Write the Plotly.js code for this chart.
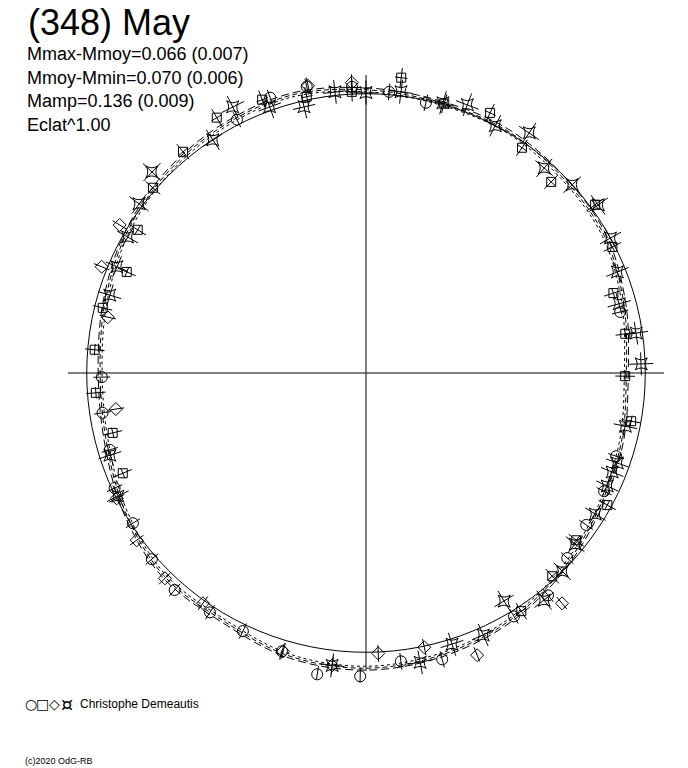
<!DOCTYPE html>
<html>
<head>
<meta charset="utf-8">
<script src="https://cdn.plot.ly/plotly-3.0.1.min.js"></script>
<style>html,body{margin:0;padding:0;background:#fff;}#chart{width:688px;height:768px;}</style>
</head>
<body>
<div id="chart"></div>
<script>
// Rotational phase (deg, clockwise from top) and relative brightness (Eclat^1.00)
const circlePhase = [333.0, 340.8, 348.3, 357.2, 4.7, 12.5, 76.5, 108.4, 116.4, 124.6, 132.6, 140.7, 148.7, 165.1, 173.1, 181.1, 189.2, 196.8, 205.5, 213.1, 221.4, 229.0, 237.2, 245.4, 253.3, 261.4, 269.1];
const circleFlux  = [1.018, 1.044, 1.047, 1.026, 1.010, 0.991, 0.936, 0.944, 0.952, 0.958, 0.979, 1.029, 1.020, 1.061, 1.040, 1.086, 1.093, 1.041, 1.024, 1.023, 1.036, 1.016, 0.993, 0.990, 0.958, 0.954, 0.946];

const squarePhase = [329.7, 320.4, 311.0, 302.1, 292.9, 283.9, 274.9, 339.2, 347.9, 357.1, 6.8, 16.2, 25.5, 34.7, 44.1, 53.7, 62.9, 72.1, 81.4, 90.7, 100.3, 118.7, 128.5, 137.5, 146.9, 265.8, 256.7, 247.6];
const squareFlux  = [1.059, 1.028, 1.011, 0.965, 0.930, 0.971, 0.975, 1.047, 1.012, 1.008, 1.065, 1.004, 1.032, 0.981, 0.953, 1.018, 0.991, 0.931, 0.939, 0.928, 0.965, 0.985, 0.962, 0.987, 1.018, 0.970, 0.932, 0.942];

const diamondPhase = [357.2, 348.6, 301.0, 291.9, 282.2, 261.8, 243.3, 233.9, 224.4, 215.3, 196.6, 186.6, 177.5, 168.0, 158.5, 139.6];
const diamondFlux  = [1.041, 1.049, 1.029, 1.020, 0.946, 0.905, 0.999, 1.016, 1.029, 1.010, 1.040, 1.054, 1.005, 1.004, 1.086, 1.083];

const starPhase = [333.4, 326.7, 313.2, 306.7, 299.7, 293.1, 286.9, 340.1, 346.9, 353.7, 0.0, 7.1, 15.9, 20.7, 27.6, 34.2, 41.0, 47.6, 54.1, 61.1, 68.1, 74.7, 81.6, 88.1, 101.6, 109.7, 111.9, 115.1, 121.6, 129.3, 135.3, 141.9, 148.8, 155.9, 162.4, 169.4, 186.6, 252.2, 243.6];
const starFlux  = [1.066, 0.999, 1.052, 1.014, 0.983, 0.970, 0.959, 1.014, 0.979, 1.013, 1.004, 1.015, 1.006, 1.027, 0.999, 1.040, 0.973, 1.000, 1.027, 1.000, 0.970, 0.940, 0.978, 0.986, 0.948, 0.956, 0.950, 0.954, 0.964, 0.968, 0.999, 1.034, 0.955, 1.028, 1.019, 1.054, 1.054, 0.963, 0.992];

// Error sizes per series: radial (brightness) and tangential (phase, deg)
const circleErr  = [0.030, 0];
const squareErr  = [0.035, 1.2];
const diamondErr = [0.030, 0];
const starErr    = [0.043, 2.4];

// Fitted lightcurve (mean and envelope), read every 15 deg of phase
const fitPhase = [0, 15, 30, 45, 60, 75, 90, 105, 120, 135, 150, 165, 180, 195, 210, 225, 240, 255, 270, 285, 300, 315, 330, 345];
const fitMean  = [1.014, 1.003, 1.004, 0.993, 0.985, 0.956, 0.932, 0.947, 0.965, 0.995, 1.025, 1.045, 1.057, 1.050, 1.024, 1.025, 0.995, 0.962, 0.952, 0.968, 0.992, 1.010, 1.022, 1.030];
const fitHigh  = [1.021, 1.010, 1.011, 1.000, 0.992, 0.963, 0.939, 0.954, 0.972, 1.002, 1.032, 1.052, 1.064, 1.057, 1.031, 1.032, 1.002, 0.969, 0.959, 0.975, 0.999, 1.017, 1.029, 1.037];
const fitLow   = [1.007, 0.996, 0.997, 0.986, 0.978, 0.949, 0.925, 0.940, 0.958, 0.988, 1.018, 1.038, 1.050, 1.043, 1.017, 1.018, 0.988, 0.955, 0.945, 0.961, 0.985, 1.003, 1.015, 1.023];

const titleText = "(348) May";
const infoLines = ["Mmax-Mmoy=0.066 (0.007)", "Mmoy-Mmin=0.070 (0.006)", "Mamp=0.136 (0.009)", "Eclat^1.00"];
const legendSymbols = ["○", "□", "◇", "¤"];
const observer = "Christophe Demeautis";
const copyright = "(c)2020 OdG-RB";

function errTrace(th, r, e) {
  const T = [], R = [];
  for (let i = 0; i < th.length; i++) {
    T.push(th[i], th[i], null); R.push(r[i] - e[0], r[i] + e[0], null);
    if (e[1] > 0) { T.push(th[i] - e[1], th[i] + e[1], null); R.push(r[i], r[i], null); }
  }
  return {type: 'scatterpolar', mode: 'lines', theta: T, r: R, connectgaps: false,
          line: {color: '#000', width: 1}, hoverinfo: 'skip'};
}
function closed(a) { return a.concat([a[0]]); }
function fitTrace(r, dash) {
  return {type: 'scatterpolar', mode: 'lines', theta: closed(fitPhase), r: closed(r),
          line: {color: '#000', width: 1, dash: dash, shape: 'spline'}, hoverinfo: 'skip'};
}
function markTrace(th, r, sym, size) {
  return {type: 'scatterpolar', mode: 'markers', theta: th, r: r,
          marker: {symbol: sym, size: size, color: '#000', line: {color: '#000', width: 1}}};
}

const traces = [
  fitTrace(fitMean, '5px,3px'),
  fitTrace(fitHigh, '8px,4px'),
  fitTrace(fitLow, '3px,3px'),
  errTrace(circlePhase, circleFlux, circleErr),
  errTrace(squarePhase, squareFlux, squareErr),
  errTrace(diamondPhase, diamondFlux, diamondErr),
  errTrace(starPhase, starFlux, starErr),
  markTrace(circlePhase, circleFlux, 'circle-open', 11),
  markTrace(squarePhase, squareFlux, 'square-open', 9),
  markTrace(diamondPhase, diamondFlux, 'diamond-open', 10),
  markTrace(starPhase, starFlux, 'star-square-open', 11)
];

const W = 688, H = 768;
const CX = 366, CY = 373, RMAX = 1.11, RPX = 310, CROSS = 298;
const font = 'Liberation Sans, Arial, sans-serif';
const ann = [];
ann.push({text: titleText, x: 26 / W, y: 1 - 22 / H, xref: 'paper', yref: 'paper', xanchor: 'left', yanchor: 'middle', showarrow: false, font: {family: font, size: 36, color: '#000'}});
const ys = [54, 77.5, 101, 124.5];
infoLines.forEach((t, i) => ann.push({text: t, x: 25 / W, y: 1 - ys[i] / H, xref: 'paper', yref: 'paper', xanchor: 'left', yanchor: 'middle', showarrow: false, font: {family: font, size: 18, color: '#000'}}));
const symSizes = [14, 14, 14, 19];
legendSymbols.forEach((s, i) => ann.push({text: s, x: (30.5 + 12 * i) / W, y: 1 - 704 / H, xref: 'paper', yref: 'paper', xanchor: 'center', yanchor: 'middle', showarrow: false, font: {family: 'DejaVu Sans', size: symSizes[i], color: '#000'}}));
ann.push({text: observer, x: 78 / W, y: 1 - 704 / H, xref: 'paper', yref: 'paper', xanchor: 'left', yanchor: 'middle', showarrow: false, font: {family: font, size: 12, color: '#000'}});
ann.push({text: copyright, x: 23 / W, y: 1 - 761 / H, xref: 'paper', yref: 'paper', xanchor: 'left', yanchor: 'middle', showarrow: false, font: {family: font, size: 9, color: '#000'}});

const shapes = [
  {type: 'line', xref: 'paper', yref: 'paper', x0: (CX - CROSS) / W, x1: (CX + CROSS) / W, y0: 1 - CY / H, y1: 1 - CY / H, line: {color: '#000', width: 1}, layer: 'below'},
  {type: 'line', xref: 'paper', yref: 'paper', x0: CX / W, x1: CX / W, y0: 1 - (CY - CROSS) / H, y1: 1 - (CY + CROSS) / H, line: {color: '#000', width: 1}, layer: 'below'}
];

const layout = {
  width: W, height: H, margin: {l: 0, r: 0, t: 0, b: 0}, paper_bgcolor: '#fff', showlegend: false,
  polar: {
    domain: {x: [(CX - RPX) / W, (CX + RPX) / W], y: [1 - (CY + RPX) / H, 1 - (CY - RPX) / H]},
    bgcolor: 'rgba(0,0,0,0)',
    radialaxis: {range: [0, RMAX], tickvals: [1], showticklabels: false, ticks: '', showline: false,
                 showgrid: true, gridcolor: '#000', gridwidth: 1},
    angularaxis: {rotation: 90, direction: 'clockwise', showticklabels: false,
                  ticks: '', showline: false, showgrid: false}
  },
  shapes: shapes,
  annotations: ann
};
Plotly.newPlot('chart', traces, layout, {displayModeBar: false, staticPlot: true});
</script>
</body>
</html>
